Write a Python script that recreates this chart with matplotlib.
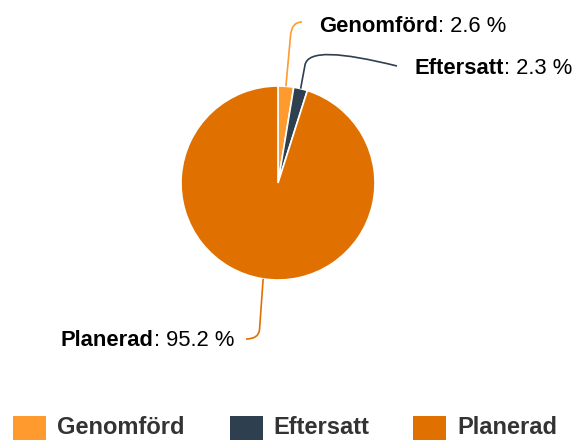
import matplotlib
matplotlib.use("Agg")
import matplotlib.pyplot as plt
from matplotlib.path import Path
from matplotlib.patches import PathPatch, Rectangle
import numpy as np

categories = ["Genomförd", "Eftersatt", "Planerad"]
values = [2.6, 2.3, 95.2]
colors = ["#FF9A2E", "#2E3F4F", "#E07100"]

W, H = 576, 442
plt.rcParams['font.family'] = ['Liberation Sans', 'DejaVu Sans']
fig = plt.figure(figsize=(W / 100, H / 100), dpi=100)
ax = fig.add_axes([0, 0, 1, 1])
ax.set_xlim(0, W)
ax.set_ylim(0, H)
ax.axis('off')

def Y(py):
    return H - py

cx, cy, R = 278, Y(183), 97
wedges, _ = ax.pie(values, colors=colors, startangle=90, counterclock=False,
                   center=(cx, cy), radius=R, normalize=True,
                   wedgeprops=dict(edgecolor='white', linewidth=1.2))
ax.set_xlim(0, W)
ax.set_ylim(0, H)
ax.set_aspect('auto')

def anchor(w):
    th = np.deg2rad((w.theta1 + w.theta2) / 2)
    return cx + R * np.cos(th), cy + R * np.sin(th)

# connectors (pixel offsets relative to anchors / label positions)
a0 = anchor(wedges[0])
p0 = [a0, (290.5, Y(36)), (291.5, Y(22)), (302, Y(22))]
c0 = [Path.MOVETO, Path.LINETO, Path.CURVE3, Path.CURVE3]
a1 = anchor(wedges[1])
p1 = [a1, (305, Y(65)), (308, Y(50)), (340, Y(52)), (397, Y(66))]
c1 = [Path.MOVETO, Path.LINETO, Path.CURVE4, Path.CURVE4, Path.CURVE4]
a2 = anchor(wedges[2])
p2 = [a2, (259.5, Y(330)), (258.5, Y(339)), (246, Y(339))]
c2 = [Path.MOVETO, Path.LINETO, Path.CURVE3, Path.CURVE3]
for pts, codes, col in [(p0, c0, colors[0]), (p1, c1, colors[1]), (p2, c2, colors[2])]:
    ax.add_patch(PathPatch(Path(pts, codes), fill=False, edgecolor=col, lw=1.2))

fs = 15.8
fig.canvas.draw()
r = fig.canvas.get_renderer()

def label_left(x, y, name, val):
    t = ax.text(x, Y(y), name, fontsize=fs, fontweight='bold', color='black',
                ha='left', va='center')
    bb = t.get_window_extent(renderer=r)
    ax.text(bb.x1, Y(y), f": {val} %", fontsize=fs, color='black',
            ha='left', va='center')

def label_right(x, y, name, val):
    t = ax.text(x, Y(y), f": {val} %", fontsize=fs, color='black',
                ha='right', va='center')
    bb = t.get_window_extent(renderer=r)
    ax.text(bb.x0, Y(y), name, fontsize=fs, fontweight='bold', color='black',
            ha='right', va='center')

label_left(319, 26, categories[0], values[0])
label_left(414, 69, categories[1], values[1])
label_right(234, 341, categories[2], values[2])

# legend
leg_x = [12.7, 229.5, 413]
for lx, name, col in zip(leg_x, categories, colors):
    ax.add_patch(Rectangle((lx, Y(440)), 33, 24, facecolor=col, edgecolor='none'))
    ax.text(lx + 44, Y(428), name, fontsize=17, fontweight='bold', color='#333333',
            ha='left', va='center')

fig.savefig("out.png", dpi=100)
